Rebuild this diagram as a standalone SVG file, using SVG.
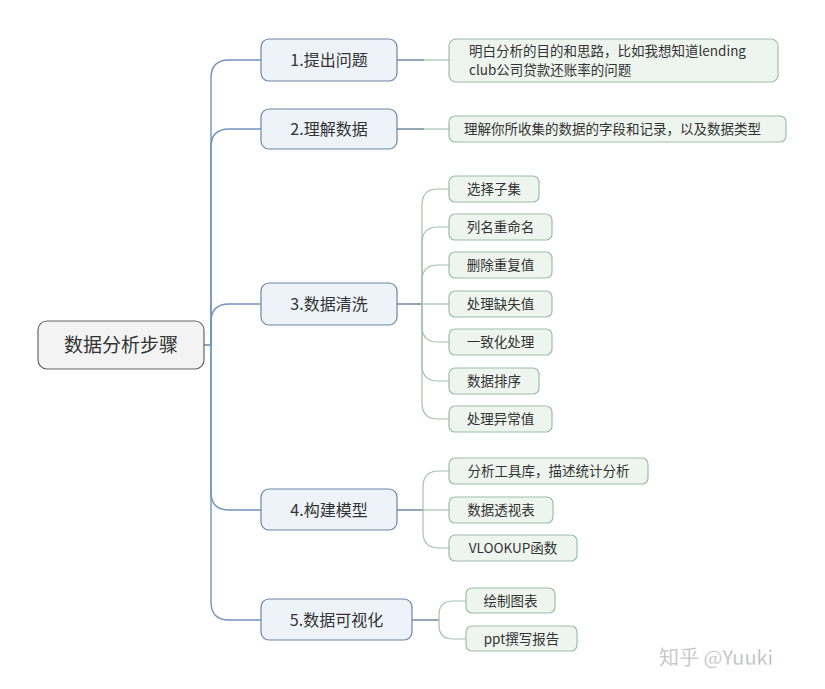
<svg xmlns="http://www.w3.org/2000/svg" width="825" height="689" viewBox="0 0 825 689">
<style>
.root{fill:#f3f3f3;stroke:#666;stroke-width:1.2}
.l1{fill:#eef3fa;stroke:#6a86a6;stroke-width:1.2}
.l2{fill:#eef5ef;stroke:#9cbfa6;stroke-width:1.2}
text{font-family:"Microsoft YaHei","Noto Sans CJK SC","Noto Sans",sans-serif;fill:#333}
.t0{font-size:19px;text-anchor:middle}
.t1{font-size:16px;text-anchor:middle}
.t2{font-size:13.5px;text-anchor:middle}
.t2l{font-size:13.5px}
.sp{fill:none;stroke:#6f93c0;stroke-width:1.4}
.dk{fill:none;stroke:#4d6b85;stroke-width:1.2}
.gr{fill:none;stroke:#a3c2ab;stroke-width:1.2}
.wm{font-size:20px;fill:#b8b8b8;stroke:#fff;stroke-width:0.3}
</style>
<rect width="825" height="689" fill="#fff"/>
<g id="connectors">
<path class="dk" d="M204 345H211"/>
<path class="sp" d="M211 345V78Q211 60 229 60H261"/>
<path class="sp" d="M211 345V147Q211 129 229 129H261"/>
<path class="sp" d="M211 345V322Q211 304 229 304H261"/>
<path class="sp" d="M211 345V492Q211 510 229 510H261"/>
<path class="sp" d="M211 345V602Q211 620 229 620H261"/>
<path class="dk" d="M397 60H424"/><path class="gr" d="M424 60H449"/>
<path class="dk" d="M397 129H424"/><path class="gr" d="M424 129H449"/>
<path class="dk" d="M397 304H422"/>
<path class="gr" d="M422 304H449"/>
<path class="gr" d="M422 304V205Q422 189 438 189H449"/>
<path class="gr" d="M422 304V243Q422 227 438 227H449"/>
<path class="gr" d="M422 304V281Q422 265 438 265H449"/>
<path class="gr" d="M422 304V326Q422 342 438 342H449"/>
<path class="gr" d="M422 304V365Q422 381 438 381H449"/>
<path class="gr" d="M422 304V403Q422 419 438 419H449"/>
<path class="dk" d="M397 510H423"/>
<path class="gr" d="M423 510H449"/>
<path class="gr" d="M423 510V487Q423 471 439 471H449"/>
<path class="gr" d="M423 510V532Q423 548 439 548H449"/>
<path class="dk" d="M412 620H439"/>
<path class="gr" d="M439 620V615Q439 601 453 601H466"/>
<path class="gr" d="M439 620V625Q439 639 453 639H466"/>
</g>
<g id="root"><rect class="root" x="38" y="321" width="166" height="48" rx="9"/><text class="t0" x="121" y="352">数据分析步骤</text></g>
<g id="n1"><rect class="l1" x="261" y="39" width="136" height="42" rx="8"/><text class="t1" x="329" y="66">1.提出问题</text></g>
<g id="n2"><rect class="l1" x="261" y="109" width="136" height="40" rx="8"/><text class="t1" x="329" y="135">2.理解数据</text></g>
<g id="n3"><rect class="l1" x="261" y="283" width="136" height="42" rx="8"/><text class="t1" x="329" y="310">3.数据清洗</text></g>
<g id="n4"><rect class="l1" x="261" y="489" width="136" height="41" rx="8"/><text class="t1" x="329" y="516">4.构建模型</text></g>
<g id="n5"><rect class="l1" x="261" y="599" width="151" height="41" rx="8"/><text class="t1" x="336.5" y="626">5.数据可视化</text></g>
<g id="n1a"><rect class="l2" x="449" y="39" width="329" height="43" rx="7"/><text class="t2l" x="469" y="56">明白分析的目的和思路，比如我想知道lending</text><text class="t2l" x="469" y="75">club公司贷款还账率的问题</text></g>
<g id="n2a"><rect class="l2" x="449" y="116" width="337" height="26" rx="6"/><text class="t2l" x="464" y="134">理解你所收集的数据的字段和记录，以及数据类型</text></g>
<g id="n3a"><rect class="l2" x="449" y="176" width="90" height="26" rx="6"/><text class="t2" x="494" y="194">选择子集</text></g>
<g id="n3b"><rect class="l2" x="449" y="214" width="103" height="26" rx="6"/><text class="t2" x="500.5" y="232">列名重命名</text></g>
<g id="n3c"><rect class="l2" x="449" y="252" width="103" height="26" rx="6"/><text class="t2" x="500.5" y="270">删除重复值</text></g>
<g id="n3d"><rect class="l2" x="449" y="291" width="103" height="26" rx="6"/><text class="t2" x="500.5" y="309">处理缺失值</text></g>
<g id="n3e"><rect class="l2" x="449" y="329" width="103" height="26" rx="6"/><text class="t2" x="500.5" y="347">一致化处理</text></g>
<g id="n3f"><rect class="l2" x="449" y="368" width="90" height="26" rx="6"/><text class="t2" x="494" y="386">数据排序</text></g>
<g id="n3g"><rect class="l2" x="449" y="406" width="103" height="26" rx="6"/><text class="t2" x="500.5" y="424">处理异常值</text></g>
<g id="n4a"><rect class="l2" x="449" y="458" width="199" height="26" rx="6"/><text class="t2" x="548.5" y="476">分析工具库，描述统计分析</text></g>
<g id="n4b"><rect class="l2" x="449" y="497" width="104" height="26" rx="6"/><text class="t2" x="501" y="515">数据透视表</text></g>
<g id="n4c"><rect class="l2" x="449" y="535" width="128" height="26" rx="6"/><text class="t2" x="513" y="553">VLOOKUP函数</text></g>
<g id="n5a"><rect class="l2" x="466" y="588" width="89" height="25" rx="6"/><text class="t2" x="510.5" y="606">绘制图表</text></g>
<g id="n5b"><rect class="l2" x="466" y="626" width="111" height="25" rx="6"/><text class="t2" x="521.5" y="644">ppt撰写报告</text></g>
<text class="wm" x="659" y="665">知乎 @Yuuki</text>
</svg>
